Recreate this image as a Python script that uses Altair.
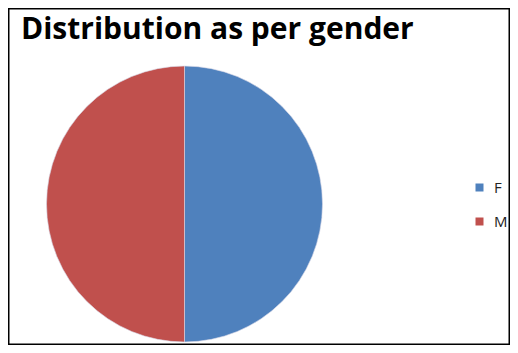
import altair as alt
import pandas as pd

genders = ["F", "M"]
shares = [50, 50]
colors = ["#4F81BD", "#C0504D"]
title_text = "Distribution as per gender"

df = pd.DataFrame({"gender": genders, "share": shares, "order": [0, 1]})

pie = alt.Chart(df).mark_arc(radius=138, stroke="#d8d8e8", strokeWidth=0.6).encode(
    theta=alt.Theta("share:Q", stack=True),
    order=alt.Order("order:Q"),
    x=alt.value(176.5),
    y=alt.value(196),
    color=alt.Color(
        "gender:N",
        scale=alt.Scale(domain=genders, range=colors),
        legend=alt.Legend(
            title=None,
            orient="none",
            legendX=464,
            legendY=172,
            symbolType="square",
            symbolSize=64,
            symbolStrokeWidth=0,
            labelFont="Open Sans",
            labelFontSize=15,
            labelColor="#222222",
            rowPadding=18,
            labelOffset=7,
        ),
    ),
)

title = alt.Chart(pd.DataFrame({"t": [title_text]})).mark_text(
    align="left", baseline="alphabetic", font="Open Sans", fontWeight="bold",
    fontSize=30, color="#000000"
).encode(x=alt.value(13), y=alt.value(31), text="t:N")

border = alt.Chart(pd.DataFrame({"b": [0]})).mark_rect(
    fill="transparent", stroke="#000000", strokeWidth=1.5
).encode(x=alt.value(0.75), x2=alt.value(501.25), y=alt.value(0.75), y2=alt.value(336.25))

chart = alt.layer(border, pie, title).properties(
    width=502, height=337,
    autosize=alt.AutoSizeParams(type="none"),
    padding=0,
).configure_view(strokeWidth=0).configure(background="white")

chart.save("out.html", embed_options={"renderer": "svg", "actions": False})
